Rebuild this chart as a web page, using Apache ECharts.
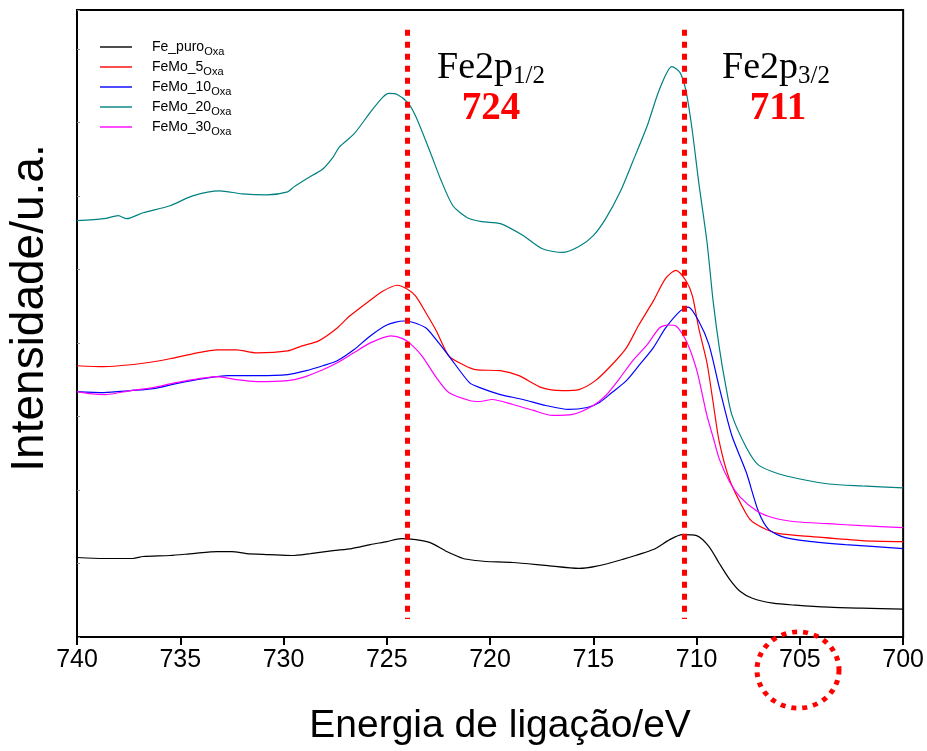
<!DOCTYPE html>
<html>
<head>
<meta charset="utf-8">
<script src="https://cdn.jsdelivr.net/npm/echarts@6/dist/echarts.min.js"></script>
<style>html,body{margin:0;padding:0;background:#fff}#c{width:927px;height:751px}</style>
</head>
<body>
<div id="c"></div>
<script>
// Binding energy ticks
var xTicks = [740, 735, 730, 725, 720, 715, 710, 705, 700];
var seriesNames = ['Fe_puro', 'FeMo_5', 'FeMo_10', 'FeMo_20', 'FeMo_30'];
var seriesColors = ['#000000', '#ff0000', '#0000ff', '#008080', '#ff00ff'];

// Intensity (arbitrary units)
var fePuroE = [740.0,738.7,737.3,736.8,735.5,734.4,733.2,732.5,731.8,730.7,729.6,728.7,727.6,726.7,725.8,725.0,724.3,723.6,722.9,722.1,721.3,720.7,720.2,718.9,717.3,715.7,714.9,713.6,712.1,711.3,710.7,710.0,709.4,708.9,708.4,707.9,707.3,706.3,705.2,703.6,702.0,700.0];
var fePuroI = [80,79,79,81,82,84,86,86,84,83,82,84,87,89,93,96,99,98,95,86,79,77,76,75,72,69,71,78,88,98,103,102,91,74,58,46,39,34,32,30,29,28];

var feMo5E = [740.0,738.7,737.4,736.3,735.5,734.4,733.2,732.3,731.3,729.8,729.1,728.3,727.4,726.8,725.8,725.2,724.5,724.0,723.6,723.1,722.6,722.0,721.3,720.7,719.5,718.6,717.5,716.5,715.7,714.9,714.1,713.4,712.8,712.1,711.5,711.0,710.5,710.2,709.9,709.5,709.2,708.9,708.4,707.6,707.3,706.6,706.0,704.4,702.0,700.0];
var feMo5I = [273,272,274,277,280,285,289,289,286,288,293,298,311,323,339,348,354,350,343,326,308,283,274,269,268,263,251,248,249,258,274,291,314,338,361,369,358,343,311,276,236,196,158,124,116,108,104,101,97,96];

var feMo10E = [740.0,738.7,737.4,736.3,735.2,733.9,732.7,731.3,729.8,728.9,728.1,727.4,726.6,725.8,725.0,724.2,723.8,723.1,722.6,722.0,721.0,720.5,719.5,718.4,717.3,716.2,715.3,714.7,714.1,713.4,712.8,712.1,711.5,710.8,710.4,709.9,709.4,708.9,708.3,707.6,707.0,706.5,705.7,704.4,702.8,700.0];
var feMo10I = [247,246,248,250,255,260,263,263,264,268,273,278,289,303,314,318,317,311,299,283,256,251,244,239,233,229,231,236,246,258,273,291,311,328,332,318,294,251,203,166,126,108,100,96,93,89];

var feMo20E = [740.0,738.7,738.0,737.6,736.8,735.5,734.4,733.1,732.0,730.8,729.8,729.5,728.9,728.1,727.6,727.3,726.6,725.8,725.2,724.9,724.5,724.0,723.6,722.9,722.4,721.8,721.1,720.4,719.5,718.4,717.5,716.5,715.7,715.0,714.4,713.7,713.1,712.4,711.8,711.2,710.8,710.5,710.2,709.9,709.5,709.2,708.9,708.6,708.3,707.6,707.0,706.0,705.0,703.6,702.0,700.0];
var feMo20I = [419,421,424,421,427,434,444,449,446,445,448,453,461,471,483,493,506,528,543,547,546,538,524,488,461,434,422,418,416,404,391,387,393,404,421,448,478,514,551,574,568,548,508,458,398,338,291,254,224,191,173,164,159,154,152,150];

var feMo30E = [740.0,739.4,738.6,737.4,736.3,735.2,733.2,732.3,731.3,729.8,729.1,728.1,727.4,726.6,725.8,724.8,724.2,723.8,723.3,722.6,722.0,721.0,720.5,719.9,718.9,717.9,717.0,716.0,715.0,714.4,713.7,713.1,712.4,711.8,711.4,711.0,710.5,710.0,709.5,709.2,708.9,708.4,707.9,707.1,706.3,705.2,703.6,702.0,700.0];
var feMo30I = [247,245,244,248,251,256,262,259,257,258,261,269,276,286,296,303,300,294,283,261,246,238,237,239,234,228,223,224,233,243,261,278,294,311,314,313,298,269,223,201,179,156,141,127,120,116,114,112,110];

var allE = [fePuroE, feMo5E, feMo10E, feMo20E, feMo30E];
var allI = [fePuroI, feMo5I, feMo10I, feMo20I, feMo30I];

// Reference peak positions
var peakLines = [724.0, 710.6];

function pairs(e, v) { return e.map(function (x, i) { return [x, v[i]]; }); }

var chart = echarts.init(document.getElementById('c'), null, { renderer: 'canvas' });

var series = seriesNames.map(function (n, k) {
  return {
    name: n, type: 'line', data: pairs(allE[k], allI[k]),
    symbol: 'none', smooth: 0.25,
    lineStyle: { color: seriesColors[k], width: 1.2 },
    itemStyle: { color: seriesColors[k] }, z: 3
  };
});
series.push({
  type: 'line', data: [], silent: true, z: 5,
  markLine: {
    silent: true, symbol: ['none', 'none'], label: { show: false },
    lineStyle: { color: '#ff0000', width: 5, type: [6, 6] },
    data: peakLines.map(function (p) { return [{ coord: [p, 611] }, { coord: [p, 18] }]; })
  }
});

chart.setOption({
  animation: false,
  backgroundColor: '#ffffff',
  grid: { left: 77, right: 23, top: 10, bottom: 110, show: true, borderColor: '#000', borderWidth: 2, containLabel: false },
  xAxis: {
    type: 'value', inverse: true, min: 700, max: 740, interval: 5,
    axisLine: { lineStyle: { color: '#000', width: 2 } },
    axisTick: { length: 8, lineStyle: { color: '#000', width: 2 } },
    axisLabel: { color: '#000', fontFamily: 'Liberation Sans', fontSize: 25, margin: 11 },
    splitLine: { show: false },
    name: 'Energia de ligação/eV', nameLocation: 'middle', nameGap: 70,
    nameTextStyle: { color: '#000', fontFamily: 'Liberation Sans', fontSize: 39, padding: [0, 0, 0, 20] }
  },
  yAxis: {
    type: 'value', min: 0, max: 631, interval: 74,
    axisLine: { lineStyle: { color: '#000', width: 2 } },
    axisTick: { inside: true, length: 3, lineStyle: { color: '#888' } },
    axisLabel: { show: false }, splitLine: { show: false }
  },
  legend: {
    orient: 'vertical', left: 95, top: 35, itemWidth: 32, itemHeight: 14, itemGap: 3,
    data: seriesNames, icon: 'path://M0,0 L32,0 L32,1.4 L0,1.4 Z',
    formatter: function (n) { return '{a|' + n + '}{b|Oxa}'; },
    textStyle: {
      padding: [0, 0, 0, 15],
      rich: {
        a: { fontFamily: 'Liberation Sans', fontSize: 14, lineHeight: 20, color: '#000' },
        b: { fontFamily: 'Liberation Sans', fontSize: 11, lineHeight: 12, color: '#000', verticalAlign: 'bottom' }
      }
    }
  },
  graphic: [
    { type: 'text', x: 30, y: 308, rotation: Math.PI / 2,
      style: { text: 'Intensidade/u.a.', font: '46px "Liberation Sans"', fill: '#000', align: 'center', verticalAlign: 'middle' } },
    { type: 'text', x: 491, y: 68,
      style: { text: '{m|Fe2p}{s|1/2}', align: 'center', verticalAlign: 'middle',
        rich: { m: { font: '38px "Liberation Serif"', fill: '#000' }, s: { font: '25px "Liberation Serif"', fill: '#000', padding: [16, 0, 0, 0] } } } },
    { type: 'text', x: 491, y: 109,
      style: { text: '724', font: 'bold 39px "Liberation Serif"', fill: '#ff0000', align: 'center', verticalAlign: 'middle' } },
    { type: 'text', x: 776, y: 68,
      style: { text: '{m|Fe2p}{s|3/2}', align: 'center', verticalAlign: 'middle',
        rich: { m: { font: '38px "Liberation Serif"', fill: '#000' }, s: { font: '25px "Liberation Serif"', fill: '#000', padding: [16, 0, 0, 0] } } } },
    { type: 'text', x: 778, y: 109,
      style: { text: '711', font: 'bold 39px "Liberation Serif"', fill: '#ff0000', align: 'center', verticalAlign: 'middle' } },
    { type: 'circle', x: 798, y: 670, scaleY: 0.93, shape: { cx: 0, cy: 0, r: 41 },
      style: { fill: 'none', stroke: '#ff0000', lineWidth: 5, lineDash: [5, 6] }, z: 10 }
  ],
  series: series
});
</script>
</body>
</html>
